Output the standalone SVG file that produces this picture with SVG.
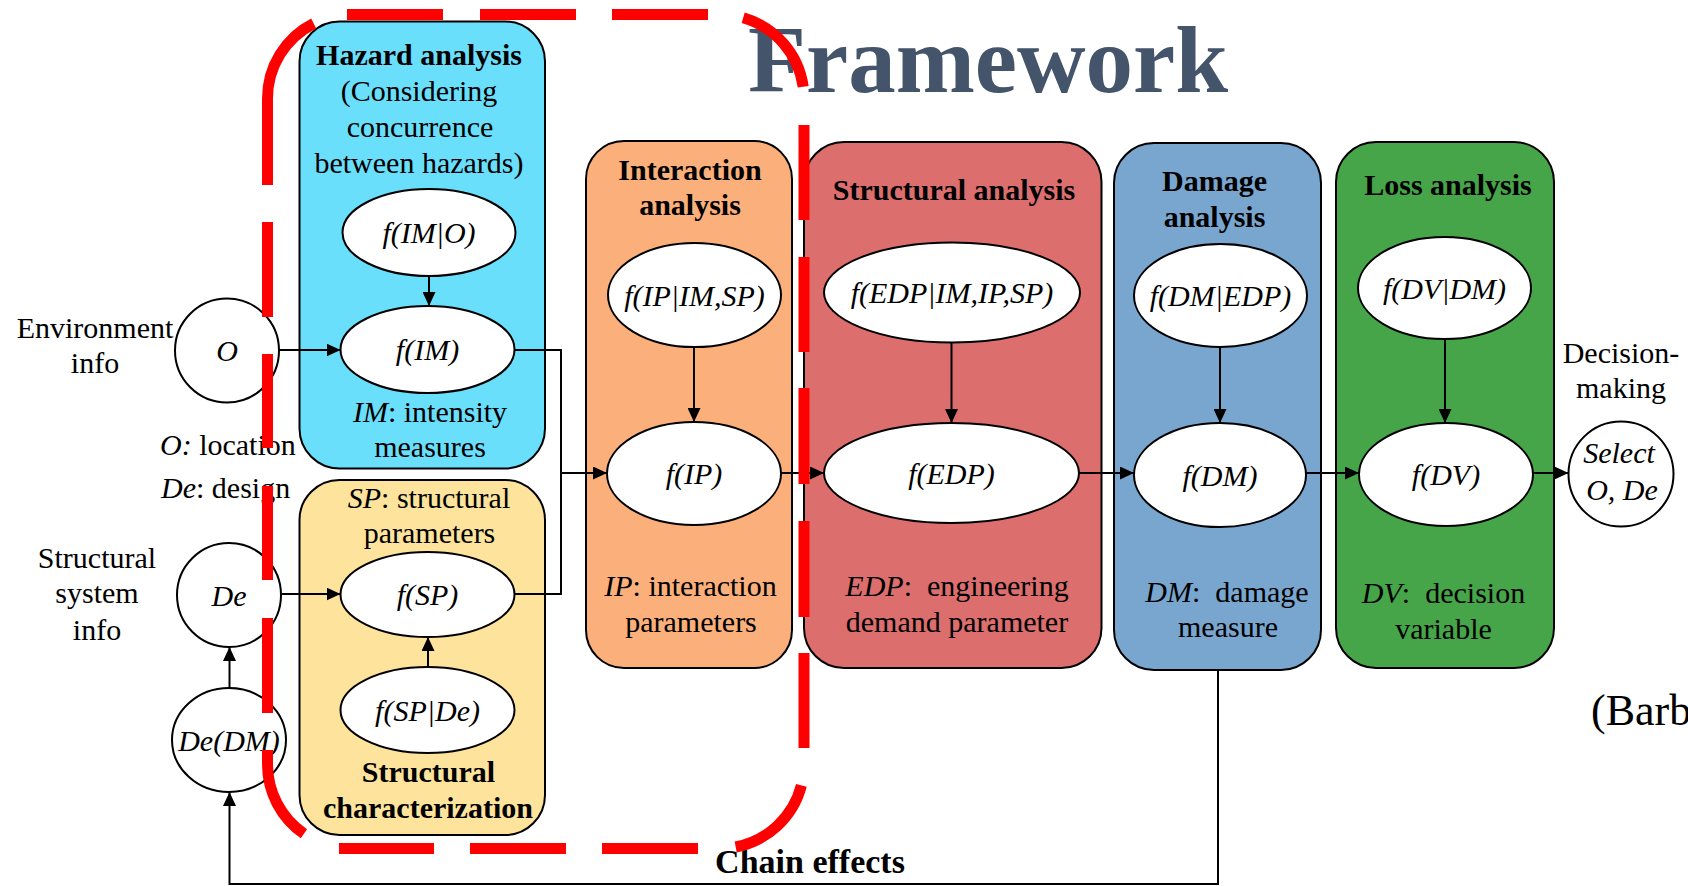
<svg xmlns="http://www.w3.org/2000/svg" width="1688" height="886" viewBox="0 0 1688 886">
<style>
.box{stroke:#000;stroke-width:2}
.ell{fill:#fff;stroke:#000;stroke-width:2}
.t{font-family:"Liberation Serif","Times New Roman",serif;font-size:30px;fill:#000;text-anchor:middle}
.b{font-weight:bold}
.i{font-style:italic}
.conn{fill:none;stroke:#000;stroke-width:2}
.red{fill:none;stroke:#FF0000;stroke-width:11}
</style>
<defs>
<marker id="arr" markerUnits="userSpaceOnUse" markerWidth="14" markerHeight="13" viewBox="0 0 14 13" refX="14" refY="6.5" orient="auto">
<path d="M0,0 L14,6.5 L0,13 z" fill="#000"/>
</marker>
</defs>
<rect width="1688" height="886" fill="#fff"/>

<text id="title" x="748" y="92" style="font-family:'Liberation Serif','Times New Roman',serif;font-size:95px;font-weight:bold;fill:#44546A">Framework</text>

<g id="hazard">
<rect class="box" x="299.5" y="21.5" width="245.5" height="447" rx="40" fill="#6ADFFC"/>
<text class="t b" x="419" y="65">Hazard analysis</text>
<text class="t" x="419" y="101">(Considering</text>
<text class="t" x="420" y="137">concurrence</text>
<text class="t" x="419" y="173">between hazards)</text>
<text class="t" x="430" y="422"><tspan class="i">IM</tspan>: intensity</text>
<text class="t" x="430" y="457">measures</text>
</g>
<g id="n_fIMO"><ellipse class="ell" cx="429" cy="232.5" rx="86.5" ry="43.5"/><text class="t i" x="429" y="243">f(IM|O)</text></g>
<g id="n_fIM"><ellipse class="ell" cx="427.5" cy="349.5" rx="87" ry="43.5"/><text class="t i" x="427.5" y="360">f(IM)</text></g>

<g id="structchar">
<rect class="box" x="299.5" y="480" width="245.5" height="355" rx="40" fill="#FDE39B"/>
<text class="t" x="429" y="508"><tspan class="i">SP</tspan>: structural</text>
<text class="t" x="429.5" y="543">parameters</text>
<text class="t b" x="428.5" y="782">Structural</text>
<text class="t b" x="428" y="818">characterization</text>
</g>
<g id="n_fSP"><ellipse class="ell" cx="427.5" cy="594.5" rx="87" ry="42.5"/><text class="t i" x="427.5" y="605">f(SP)</text></g>
<g id="n_fSPDe"><ellipse class="ell" cx="427.5" cy="710" rx="87" ry="43"/><text class="t i" x="427.5" y="720.5">f(SP|De)</text></g>

<g id="interaction">
<rect class="box" x="586" y="141" width="206" height="527" rx="38" fill="#FBB07B"/>
<text class="t b" x="690" y="180">Interaction</text>
<text class="t b" x="690" y="215">analysis</text>
<text class="t" x="690.5" y="596"><tspan class="i">IP</tspan>: interaction</text>
<text class="t" x="691" y="632">parameters</text>
</g>
<g id="n_fIPIMSP"><ellipse class="ell" cx="694.5" cy="295" rx="86.5" ry="52"/><text class="t i" x="694.5" y="305.5">f(IP|IM,SP)</text></g>
<g id="n_fIP"><ellipse class="ell" cx="694" cy="473.5" rx="87" ry="51.5"/><text class="t i" x="694" y="484">f(IP)</text></g>

<g id="structanalysis">
<rect class="box" x="804" y="142" width="297.5" height="526" rx="40" fill="#DC6E6E"/>
<text class="t b" x="954" y="200">Structural analysis</text>
<text class="t" x="957" y="596" xml:space="preserve"><tspan class="i">EDP</tspan>:  engineering</text>
<text class="t" x="957" y="632">demand parameter</text>
</g>
<g id="n_fEDPcond"><ellipse class="ell" cx="952" cy="292.5" rx="128" ry="50"/><text class="t i" x="952" y="303">f(EDP|IM,IP,SP)</text></g>
<g id="n_fEDP"><ellipse class="ell" cx="951.5" cy="473" rx="127.5" ry="50"/><text class="t i" x="951.5" y="483.5">f(EDP)</text></g>

<g id="damage">
<rect class="box" x="1114" y="143" width="207" height="527" rx="40" fill="#78A6CF"/>
<text class="t b" x="1214.5" y="190.5">Damage</text>
<text class="t b" x="1214.5" y="226.5">analysis</text>
<text class="t" x="1227" y="602" xml:space="preserve"><tspan class="i">DM</tspan>:  damage</text>
<text class="t" x="1228" y="637">measure</text>
</g>
<g id="n_fDMEDP"><ellipse class="ell" cx="1220.5" cy="295.5" rx="86.5" ry="51.5"/><text class="t i" x="1220.5" y="306">f(DM|EDP)</text></g>
<g id="n_fDM"><ellipse class="ell" cx="1220" cy="475" rx="86" ry="52"/><text class="t i" x="1220" y="485.5">f(DM)</text></g>

<g id="loss">
<rect class="box" x="1336" y="142" width="218" height="526" rx="40" fill="#47A549"/>
<text class="t b" x="1448" y="195">Loss analysis</text>
<text class="t" x="1443.5" y="603" xml:space="preserve"><tspan class="i">DV</tspan>:  decision</text>
<text class="t" x="1443.5" y="639">variable</text>
</g>
<g id="n_fDVDM"><ellipse class="ell" cx="1444.5" cy="288" rx="86.5" ry="51"/><text class="t i" x="1444.5" y="298.5">f(DV|DM)</text></g>
<g id="n_fDV"><ellipse class="ell" cx="1446" cy="474.5" rx="87" ry="51.5"/><text class="t i" x="1446" y="485">f(DV)</text></g>

<g id="n_O">
<circle class="ell" cx="227" cy="350.5" r="52"/><text class="t i" x="227" y="361">O</text>
<text class="t" x="95" y="338">Environment</text>
<text class="t" x="95" y="373">info</text>
</g>
<g id="legend">
<text class="t" x="160" y="455" style="text-anchor:start"><tspan class="i">O:</tspan> location</text>
<text class="t" x="161" y="498" style="text-anchor:start"><tspan class="i">De</tspan>: design</text>
</g>
<g id="n_De">
<circle class="ell" cx="229" cy="595" r="52"/><text class="t i" x="229" y="605.5">De</text>
<text class="t" x="97" y="568">Structural</text>
<text class="t" x="97" y="603">system</text>
<text class="t" x="97" y="640">info</text>
</g>
<g id="n_DeDM"><ellipse class="ell" cx="229" cy="740" rx="57" ry="52"/><text class="t i" x="229" y="750.5">De(DM)</text></g>
<g id="n_select">
<circle class="ell" cx="1621" cy="474" r="52.5"/>
<text class="t i" x="1619" y="463">Select</text>
<text class="t i" x="1622" y="500">O, De</text>
<text class="t" x="1621" y="363">Decision-</text>
<text class="t" x="1621" y="398">making</text>
</g>
<g id="citation"><text x="1591" y="725" style="font-family:'Liberation Serif','Times New Roman',serif;font-size:44px;fill:#000">(Barb</text></g>

<g id="connectors">
<path class="conn" d="M429 276 V306" marker-end="url(#arr)"/>
<path class="conn" d="M279 350 H340.5" marker-end="url(#arr)"/>
<path class="conn" d="M514.5 350 H561 V594 H514.5"/>
<path class="conn" d="M561 473 H607" marker-end="url(#arr)"/>
<path class="conn" d="M281 594 H340.5" marker-end="url(#arr)"/>
<path class="conn" d="M428 667 V637" marker-end="url(#arr)"/>
<path class="conn" d="M229.5 688 V647" marker-end="url(#arr)"/>
<path class="conn" d="M694 347 V422" marker-end="url(#arr)"/>
<path class="conn" d="M781 473 H824" marker-end="url(#arr)"/>
<path class="conn" d="M951.5 342.5 V423" marker-end="url(#arr)"/>
<path class="conn" d="M1079 473 H1134" marker-end="url(#arr)"/>
<path class="conn" d="M1220 347 V423" marker-end="url(#arr)"/>
<path class="conn" d="M1306 473 H1359" marker-end="url(#arr)"/>
<path class="conn" d="M1445 339 V423" marker-end="url(#arr)"/>
<path class="conn" d="M1533 473 H1568.5" marker-end="url(#arr)"/>
<path class="conn" d="M1218 670 V884 H229.5 V792" marker-end="url(#arr)"/>
<text class="t b" x="810" y="873" style="font-size:34px">Chain effects</text>
</g>

<g id="focus-outline">
<path class="red" d="M267.5 185 L267.5 98.5 A84 84 0 0 1 313.7 23.5"/>
<path class="red" d="M347 14.5 H443 M480 14.5 H576 M612 14.5 H708"/>
<path class="red" d="M743.2 17.8 A84 84 0 0 1 803.2 86.8"/>
<path class="red" d="M804 125 V220 M804 257 V352 M804 388 V484 M804 521 V617 M804 653 V748"/>
<path class="red" d="M801.4 785.4 A84 84 0 0 1 735.7 847"/>
<path class="red" d="M698 848.5 H602 M566 848.5 H470 M434 848.5 H339"/>
<path class="red" d="M267.5 750 V764.5 A84 84 0 0 0 303.9 833.7"/>
<path class="red" d="M267.5 222 V317 M267.5 354 V448 M267.5 486 V580 M267.5 618 V713"/>
</g>
</svg>
